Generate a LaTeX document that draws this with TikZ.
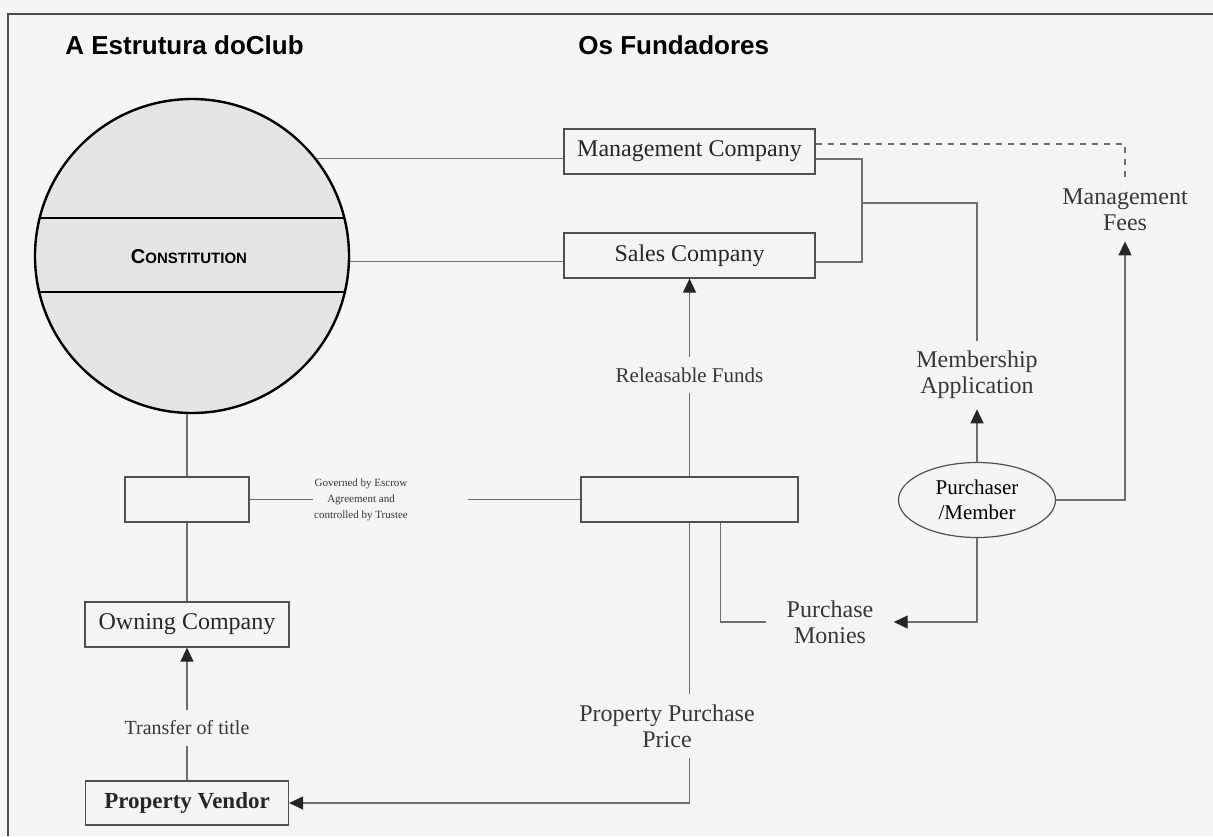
\documentclass[tikz,border=0pt]{standalone}
\usepackage{fontspec}
\setmainfont{Liberation Serif}
\setsansfont{Liberation Sans}
\usetikzlibrary{arrows.meta,shapes.geometric}

\definecolor{pagebg}{RGB}{244,244,244}
\definecolor{boxline}{RGB}{80,80,80}
\definecolor{wireline}{RGB}{110,110,110}
\definecolor{labeltext}{RGB}{55,55,55}
\definecolor{circlefill}{RGB}{228,228,228}

\tikzset{%
  every box/.style={
    rectangle,
    draw=boxline,
    line width=0.6pt,
    minimum height=22.5pt,
    inner sep=0pt,
    text=black!85,
    font=\fontsize{12}{14}\selectfont
  },
  flow label/.style={
    align=center,
    inner xsep=10pt,
    inner ysep=5pt,
    text=labeltext,
    font=\fontsize{12}{13}\selectfont
  },
  wire/.style={
    draw=wireline,
    line width=0.6pt
  },
  heading/.style={
    anchor=west,
    inner sep=0pt,
    font=\sffamily\bfseries\fontsize{13}{15}\selectfont
  },
}

\begin{document}
\begin{tikzpicture}[x=0.5pt, y=-0.5pt, >={Triangle[length=7pt, width=6.5pt, color=black!85]}]

    \fill[pagebg] (0,0) rectangle (1213,836);
    \useasboundingbox (0,0) rectangle (1213,836);
    \draw[line width=0.8pt, black!70] (8,836) -- (8,14) -- (1213,14);

    \node[heading] (title-club) at (65,45) {A Estrutura doClub};
    \node[heading] (title-founders) at (578,45) {Os Fundadores};

    \node[circle, draw, line width=1.2pt, fill=circlefill, minimum size=157pt, inner sep=0pt] (club) at (192,256) {};
    \begin{scope}
      \clip (club.center) circle [radius=78.5pt];
      \draw[line width=0.8pt] (0,218) -- (400,218);
      \draw[line width=0.8pt] (0,292) -- (400,292);
    \end{scope}
    \node[font=\sffamily\bfseries] (constitution) at (189,257)
      {{\fontsize{10}{12}\selectfont C}{\fontsize{7.5}{9}\selectfont ONSTITUTION}};

    \node[every box, minimum width=125.5pt] (mgmt) at (689.5,151.5) {Management Company};
    \node[every box, minimum width=125.5pt] (sales) at (689.5,255.5) {Sales Company};
    \node[every box, minimum width=108.5pt] (escrow-main) at (689.5,499.5) {};
    \node[every box, minimum width=62pt] (escrow-club) at (187,499.5) {};
    \node[every box, minimum width=102pt] (owning) at (187,624.5) {Owning Company};
    \node[every box, minimum width=101.5pt, minimum height=22pt, font=\bfseries\fontsize{11.5}{14}\selectfont] (vendor) at (187,803) {Property Vendor};
    \node[ellipse, draw=boxline, line width=0.6pt, minimum width=78.5pt, minimum height=37.5pt, inner sep=0pt, align=center, font=\fontsize{10.5}{12.5}\selectfont] (purchaser) at (977,500) {Purchaser\\/Member};

    \node[flow label] (membership) at (977,375) {Membership\\Application};
    \node[flow label] (fees) at (1125,210) {Management\\Fees};
    \node[flow label, font=\fontsize{10.5}{12}\selectfont] (releasable) at (689.5,375) {Releasable Funds};
    \node[flow label] (monies) at (830,622) {Purchase\\Monies};
    \node[flow label] (price) at (667,726) {Property Purchase\\Price};
    \node[flow label, font=\fontsize{10}{12}\selectfont] (transfer) at (187,728) {Transfer of title};
    \node[flow label, font=\fontsize{5.5}{8}\selectfont] (escrow-terms) at (361,500) {Governed by Escrow\\Agreement and\\controlled by Trustee};

    \coordinate (join) at (862,203);
    \coordinate (escrow-left) at (313,499.5);
    \coordinate (escrow-right) at (468,499.5);

    \draw[wire] (club.38) -- (club.38 -| mgmt.west);
    \draw[wire] (club.-2) -- (club.-2 -| sales.west);
    \draw[wire] ([yshift=-3.75pt]mgmt.east) -| (join) |- ([yshift=-3.25pt]sales.east);
    \draw[wire] (join) -| (membership.north);
    \draw[wire, dashed] ([yshift=3.75pt]mgmt.east) -| (fees.north);
    \draw[wire, ->] (purchaser.north) -- (membership.south);
    \draw[wire, ->] (purchaser.east) -| (fees.south);
    \draw[wire, ->] (purchaser.south) |- (monies.east);
    \draw[wire] ([xshift=15.5pt]escrow-main.south) |- (monies.west);
    \draw[wire] (escrow-main.north) -- (releasable.south);
    \draw[wire, ->] (releasable.north) -- (sales.south);
    \draw[wire] (escrow-main.south) -- (escrow-main.south |- price.north);
    \draw[wire, ->] (escrow-main.south |- price.south) |- (vendor.east);
    \draw[wire] (escrow-club.east) -- (escrow-left);
    \draw[wire] (escrow-right) -- (escrow-main.west);
    \draw[wire] (club.south -| escrow-club.north) -- (escrow-club.north);
    \draw[wire] (escrow-club.south) -- (owning.north);
    \draw[wire] (vendor.north) -- (transfer.south);
    \draw[wire, ->] (transfer.north) -- (owning.south);
\end{tikzpicture}
\end{document}
